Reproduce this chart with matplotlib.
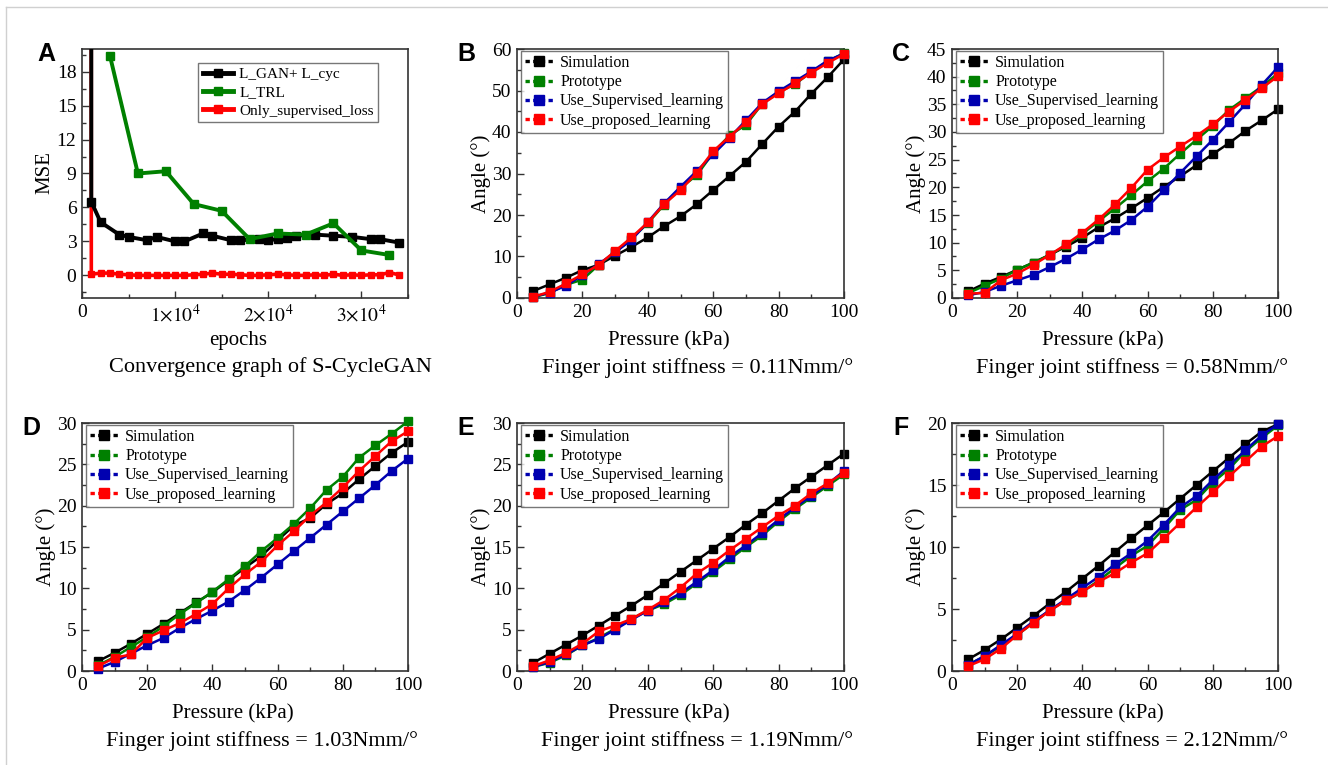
import numpy as np
import matplotlib
matplotlib.use('Agg')
from matplotlib import pyplot as plt
from matplotlib.lines import Line2D
from matplotlib.ticker import MultipleLocator, FixedLocator, FixedFormatter

plt.rcParams['font.family'] = ['Liberation Serif', 'DejaVu Serif']
plt.rcParams['font.weight'] = 'normal'
plt.rcParams['mathtext.fontset'] = 'stix'

# ---- panel A: convergence data ----
ep_gan = [950, 1000, 2000, 4000, 5000, 7000, 8000, 10000, 11000, 13000, 14000, 16000, 17000,
          19000, 20000, 21000, 22000, 23000, 25000, 27000, 29000, 31000, 32000, 34000]
mse_gan = [500, 6.5, 4.7, 3.6, 3.4, 3.1, 3.4, 3.0, 3.0, 3.7, 3.5, 3.1, 3.1,
           3.2, 3.1, 3.2, 3.3, 3.5, 3.6, 3.5, 3.4, 3.2, 3.2, 2.9]
ep_trl = [3000, 6000, 9000, 12000, 15000, 18000, 21000, 24000, 27000, 30000, 33000]
mse_trl = [19.4, 9.0, 9.2, 6.3, 5.7, 3.2, 3.7, 3.6, 4.6, 2.2, 1.8]
ep_sup = [900] + list(range(1000, 35000, 1000))
mse_sup = [400, 0.1, 0.2, 0.2, 0.1, 0.05, 0.0, 0.0, 0.0, 0.0, 0.0, 0.0, 0.05, 0.1, 0.2, 0.1, 0.1,
           0.05, 0.0, 0.0, 0.05, 0.1, 0.05, 0.0, 0.0, 0.05, 0.0, 0.1, 0.0, 0.05, 0.0, 0.05, 0.05,
           0.25, 0.05]

# ---- panels B-F: angle vs pressure ----
pressure = [5, 10, 15, 20, 25, 30, 35, 40, 45, 50, 55, 60, 65, 70, 75, 80, 85, 90, 95, 100]

b_sim = [1.7, 3.3, 4.9, 6.7, 8.0, 10.2, 12.3, 14.6, 17.3, 19.7, 22.6, 26.0, 29.4, 32.8, 37.1, 41.3, 44.9, 49.2, 53.2, 57.5]
b_pro = [0.2, 1.2, 3.2, 4.4, 8.0, 11.0, 14.3, 18.0, 22.5, 26.5, 29.6, 35.0, 39.2, 41.7, 46.8, 49.6, 51.5, 54.5, 57.0, 59.0]
b_sup = [0.3, 1.3, 3.0, 5.5, 8.2, 11.0, 14.0, 18.3, 22.8, 26.8, 30.6, 34.6, 38.6, 42.8, 47.0, 49.8, 52.2, 54.6, 57.2, 58.9]
b_prop = [0.3, 1.5, 3.5, 5.7, 8.0, 11.3, 14.6, 18.2, 22.6, 26.0, 30.2, 35.4, 38.9, 42.3, 46.7, 49.3, 51.7, 54.3, 56.6, 58.8]

c_sim = [1.2, 2.6, 3.8, 5.1, 6.4, 7.8, 9.3, 10.9, 12.8, 14.4, 16.2, 18.1, 20.1, 22.0, 24.0, 26.0, 28.0, 30.2, 32.1, 34.1]
c_pro = [0.9, 2.2, 3.5, 5.1, 6.4, 7.8, 9.5, 11.6, 13.9, 16.2, 18.6, 21.1, 23.4, 26.1, 28.6, 31.1, 34.0, 36.1, 38.2, 40.6]
c_sup = [0.5, 1.1, 2.2, 3.2, 4.2, 5.6, 7.1, 8.8, 10.6, 12.2, 14.1, 16.5, 19.5, 22.6, 25.6, 28.6, 31.8, 35.0, 38.5, 41.7]
c_prop = [0.8, 0.9, 3.2, 4.4, 6.0, 7.8, 9.7, 11.8, 14.2, 16.9, 19.9, 23.2, 25.4, 27.4, 29.3, 31.4, 33.7, 35.8, 37.9, 40.1]

d_sim = [1.2, 2.2, 3.3, 4.5, 5.7, 7.0, 8.3, 9.5, 11.0, 12.5, 13.9, 15.8, 17.6, 18.5, 20.2, 21.5, 23.2, 24.8, 26.4, 27.7]
d_pro = [0.7, 1.7, 2.9, 4.1, 5.4, 6.9, 8.2, 9.6, 11.1, 12.7, 14.5, 16.1, 17.8, 19.7, 21.9, 23.5, 25.8, 27.3, 28.7, 30.2]
d_sup = [0.3, 1.1, 2.1, 3.1, 4.0, 5.2, 6.3, 7.3, 8.4, 9.8, 11.3, 12.9, 14.5, 16.1, 17.7, 19.3, 20.9, 22.5, 24.2, 25.7]
d_prop = [0.6, 1.6, 2.0, 4.0, 4.9, 5.8, 6.9, 8.1, 10.0, 11.7, 13.2, 15.2, 16.9, 18.8, 20.4, 22.2, 24.2, 26.0, 27.8, 29.0]

e_sim = [1.0, 2.1, 3.2, 4.3, 5.5, 6.7, 7.9, 9.2, 10.6, 12.0, 13.4, 14.8, 16.2, 17.7, 19.1, 20.6, 22.1, 23.5, 24.9, 26.3]
e_pro = [0.5, 1.0, 1.9, 3.1, 4.0, 5.1, 6.3, 7.3, 8.1, 9.2, 10.6, 12.0, 13.5, 15.0, 16.4, 18.1, 19.6, 21.0, 22.4, 23.8]
e_sup = [0.5, 1.1, 2.0, 3.1, 3.9, 5.0, 6.2, 7.3, 8.3, 9.4, 10.8, 12.2, 13.8, 15.2, 16.7, 18.3, 19.8, 21.2, 22.6, 24.2]
e_prop = [0.6, 1.3, 2.2, 3.3, 4.8, 5.5, 6.3, 7.4, 8.6, 10.1, 11.8, 13.1, 14.6, 16.0, 17.4, 18.8, 20.0, 21.5, 22.7, 24.0]

f_sim = [0.95, 1.7, 2.55, 3.5, 4.45, 5.45, 6.4, 7.45, 8.5, 9.6, 10.7, 11.75, 12.8, 13.9, 15.0, 16.1, 17.2, 18.3, 19.3, 19.9]
f_pro = [0.5, 1.2, 2.0, 2.9, 3.9, 4.9, 5.7, 6.4, 7.3, 8.3, 9.3, 10.1, 11.5, 13.0, 13.8, 15.2, 16.3, 17.7, 18.8, 19.8]
f_sup = [0.5, 1.2, 2.1, 3.0, 4.0, 4.9, 5.8, 6.7, 7.6, 8.6, 9.5, 10.5, 11.8, 13.2, 14.1, 15.4, 16.6, 17.8, 19.0, 19.9]
f_prop = [0.4, 0.95, 1.8, 2.9, 3.9, 4.85, 5.7, 6.4, 7.2, 7.9, 8.75, 9.5, 10.7, 11.95, 13.2, 14.4, 15.7, 16.9, 18.1, 18.95]

series_names = ['Simulation', 'Prototype', 'Use_Supervised_learning', 'Use_proposed_learning']
series_colors = ['#000000', '#008000', '#0000b0', '#ff0000']
stiffness = ['0.11', '0.58', '1.03', '1.19', '2.12']
ymax_list = [60, 45, 30, 30, 20]
ystep_list = [10, 5, 5, 5, 5]
panel_data = [(b_sim, b_pro, b_sup, b_prop), (c_sim, c_pro, c_sup, c_prop),
              (d_sim, d_pro, d_sup, d_prop), (e_sim, e_pro, e_sup, e_prop),
              (f_sim, f_pro, f_sup, f_prop)]

W, H = 1328, 765
fig = plt.figure(figsize=(W / 100, H / 100), dpi=100)


def box(x0, y0, x1, y1):
    # pixel box -> figure fraction
    return [x0 / W, 1 - y1 / H, (x1 - x0) / W, (y1 - y0) / H]


def ftext(x, y, s, family='Liberation Serif', weight='normal', **kw):
    fig.text(x / W, 1 - y / H, s, ha='center', va='center',
             fontfamily=family, fontweight=weight, **kw)


def style_axes(ax):
    for sp in ax.spines.values():
        sp.set_linewidth(1.2)
        sp.set_color('#333333')
    ax.tick_params(which='both', direction='in', top=False, right=False,
                   labelsize=14, width=1.0, color='#333333', pad=4)
    ax.tick_params(which='major', length=5)
    ax.tick_params(which='minor', length=3)


# frame lines at top and left
fig.add_artist(Line2D([6 / W, 1], [1 - 7 / H, 1 - 7 / H], color='#d0d0d0', lw=1))
fig.add_artist(Line2D([6 / W, 6 / W], [0, 1 - 7 / H], color='#d0d0d0', lw=1))

# ---- panel A ----
axA = fig.add_axes(box(82, 49, 408, 298))
axA.plot(ep_sup, mse_sup, color='#ff0000', lw=2.6, marker='s', ms=5, zorder=2)
axA.plot(ep_gan, mse_gan, color='#000000', lw=2.8, marker='s', ms=5.5, zorder=3)
axA.plot(ep_trl, mse_trl, color='#008000', lw=2.8, marker='s', ms=5.5, zorder=4)
axA.set_xlim(0, 35000)
axA.set_ylim(-2, 20)
axA.yaxis.set_major_locator(MultipleLocator(3))
axA.yaxis.set_minor_locator(MultipleLocator(1.5))
axA.xaxis.set_major_locator(FixedLocator([0, 10000, 20000, 30000]))
axA.xaxis.set_major_formatter(FixedFormatter(['0', r'$1{\times}10^4$', r'$2{\times}10^4$', r'$3{\times}10^4$']))
axA.xaxis.set_minor_locator(MultipleLocator(5000))
style_axes(axA)
hA = [Line2D([], [], color=c, lw=3.5, marker='s', ms=6) for c in ['#000000', '#008000', '#ff0000']]
legA = axA.legend(hA, ['L_GAN+ L_cyc', 'L_TRL', 'Only_supervised_loss'], loc='upper left',
                  bbox_to_anchor=(116 / 326, 1 - 14 / 249), fontsize=11, frameon=True, fancybox=False,
                  edgecolor='#555555', handlelength=2.0, handletextpad=0.4, borderpad=0.3,
                  labelspacing=0.3, borderaxespad=0)
legA.get_frame().set_linewidth(1.0)
ftext(45, 173, 'MSE', rotation=90, fontsize=15)
ftext(238, 341, 'epochs', fontsize=15)
ftext(270, 367, 'Convergence graph of S-CycleGAN', fontsize=16)
ftext(46, 54, 'A', family='Liberation Sans', weight='bold', fontsize=18)

# ---- panels B-F ----
boxes = [(517, 49, 844, 298), (952, 49, 1278, 298),
         (82, 423, 408, 671), (517, 423, 844, 671), (952, 423, 1278, 671)]
letters = ['B', 'C', 'D', 'E', 'F']
for i in range(5):
    x0, y0, x1, y1 = boxes[i]
    ax = fig.add_axes(box(x0, y0, x1, y1))
    for k in range(4):
        ax.plot(pressure, panel_data[i][k], color=series_colors[k], lw=1.8, marker='s',
                ms=6, zorder=2 + k, clip_on=False)
    ax.set_xlim(0, 100)
    ax.set_ylim(0, ymax_list[i])
    ax.xaxis.set_major_locator(MultipleLocator(20))
    ax.xaxis.set_minor_locator(MultipleLocator(10))
    ax.yaxis.set_major_locator(MultipleLocator(ystep_list[i]))
    ax.yaxis.set_minor_locator(MultipleLocator(ystep_list[i] / 2))
    style_axes(ax)
    hs = [Line2D([], [], color=c, lw=2.4, ls=(0, (1.3, 1.0)), marker='s', ms=7)
          for c in series_colors]
    leg = ax.legend(hs, series_names, loc='upper left', bbox_to_anchor=(4 / 327, 1 - 2 / 249),
                    fontsize=11.5, frameon=True, fancybox=False, edgecolor='#555555',
                    handlelength=1.8, handletextpad=0.4, borderpad=0.25, labelspacing=0.2,
                    borderaxespad=0)
    leg.get_frame().set_linewidth(1.0)
    cx = (x0 + x1) / 2
    ftext(x0 - 36, (y0 + y1) / 2, 'Angle (°)', rotation=90, fontsize=15)
    ftext(cx - 12, y1 + 43, 'Pressure (kPa)', fontsize=15)
    ftext(cx + 17, y1 + 70, 'Finger joint stiffness = ' + stiffness[i] + 'Nmm/°', fontsize=16)
    ftext(x0 - 51, y0 + 5, letters[i], family='Liberation Sans', weight='bold', fontsize=18)

fig.savefig('out.png', dpi=100)
